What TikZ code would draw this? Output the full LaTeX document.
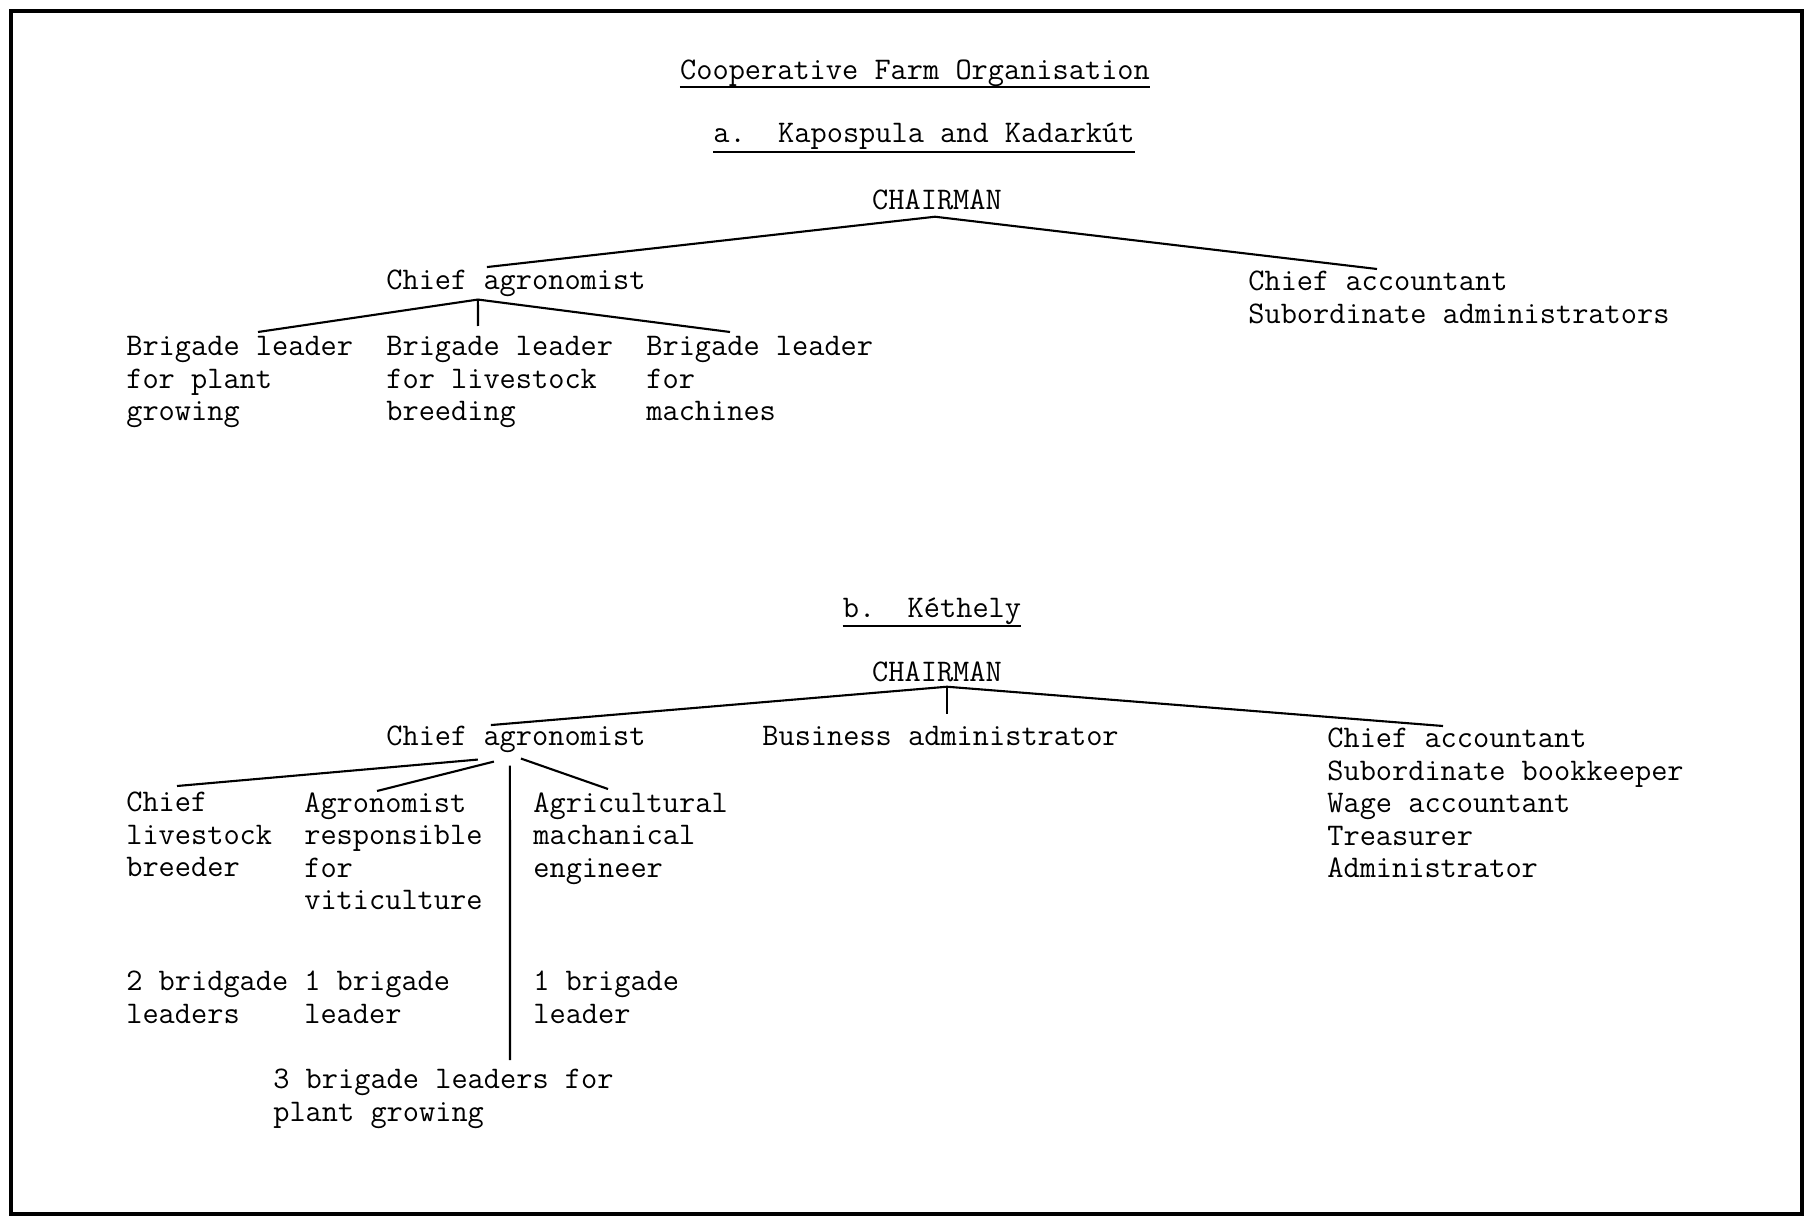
\documentclass[tikz,border=0pt]{standalone}
\usepackage{fontspec}
\usetikzlibrary{positioning}

\begin{document}
\begin{tikzpicture}[x=0.02cm,y=-0.02cm,
    txt/.style={font=\fontsize{17.9}{18.5}\selectfont\ttfamily,inner sep=0pt,align=left},
    ln/.style={line width=1.2pt},
    outerframe/.style={line width=2.6pt}]
%\draw [help lines,step=100](0,0) grid (1807,1219);
\useasboundingbox (0,0) rectangle (1807,1219);
\draw [outerframe] (11,11) rectangle (1802,1214);
% headings
\node [txt,anchor=base] (title) at (915,80) {Cooperative Farm Organisation};
\draw [ln] ([shift={(0,7)}]title.base west) -- ([shift={(0,7)}]title.base east);
\node [txt,anchor=base] (subA) at (924,143) {a.\ \ Kapospula and Kadarkút};
\draw [ln] ([shift={(0,9)}]subA.base west) -- ([shift={(0,9)}]subA.base east);
% a. Kapospula and Kadarkut
\node [txt,anchor=base] (chairA) at (937,210) {CHAIRMAN};
\node [txt,anchor=base west] (agA) at (386,290) {Chief agronomist};
\node [txt,anchor=north west] (accA) at (1248,271) {Chief accountant\\Subordinate administrators};
\node [txt,anchor=north west] (plantA) at (126,336) {Brigade leader\\for plant\\growing};
\node [txt,anchor=north west] (stockA) at (386,336) {Brigade leader\\for livestock\\breeding};
\node [txt,anchor=north west] (machA) at (646,336) {Brigade leader\\for\\machines};
\draw [ln] ([shift={(-29,-3)}]agA.north) -- ([shift={(-2,6)}]chairA.south) -- ([shift={(129,-2)}]accA.north west);
\draw [ln] ([shift={(132,-4)}]plantA.north west) -- ([shift={(-38,2)}]agA.south) -- ([shift={(84,-4)}]machA.north west);
\draw [ln] ([shift={(-38,2)}]agA.south) -- ([shift={(92,-10)}]stockA.north west);
% b. Kethely
\node [txt,anchor=base] (subB) at (932,617) {b.\ \ Kéthely};
\draw [ln] ([shift={(0,9)}]subB.base west) -- ([shift={(0,9)}]subB.base east);
\node [txt,anchor=base] (chairB) at (937,681) {CHAIRMAN};
\node [txt,anchor=base west] (agB) at (386,745) {Chief agronomist};
\node [txt,anchor=base west] (busB) at (762,745) {Business administrator};
\node [txt,anchor=north west] (accB) at (1327,728) {Chief accountant\\Subordinate bookkeeper\\Wage accountant\\Treasurer\\Administrator};
\node [txt,anchor=north west] (stockB) at (126,792) {Chief\\livestock\\breeder};
\node [txt,anchor=north west] (vitiB) at (304,792) {Agronomist\\responsible\\for\\viticulture};
\node [txt,anchor=north west] (engB) at (533,792) {Agricultural\\machanical\\engineer};
\node [txt,anchor=north west] (stockBl) at (126,971) {2 bridgade\\leaders};
\node [txt,anchor=north west] (vitiBl) at (304,971) {1 brigade\\leader};
\node [txt,anchor=north west] (engBl) at (533,971) {1 brigade\\leader};
\node [txt,anchor=north west] (plantB) at (273,1069) {3 brigade leaders for\\plant growing};
\coordinate (apexB) at ([shift={(10,5)}]chairB.south);
\coordinate (busTop) at ([shift={(0,-11)}]busB.north);
\draw [ln] ([shift={(-25,0)}]agB.north) -- (apexB) -- ([shift={(116,-2)}]accB.north west);
\draw [ln] (apexB) -- (apexB |- busTop);
\draw [ln] ([shift={(-38,7)}]agB.south) -- ([shift={(51,-6)}]stockB.north west);
\draw [ln] ([shift={(-22,9)}]agB.south) -- ([shift={(73,-1)}]vitiB.north west);
\draw [ln] ([shift={(-6,13)}]agB.south) -- ([shift={(237,-9)}]plantB.north west);
\draw [ln] ([shift={(5,6)}]agB.south) -- ([shift={(75,-3)}]engB.north west);
\end{tikzpicture}
\end{document}
